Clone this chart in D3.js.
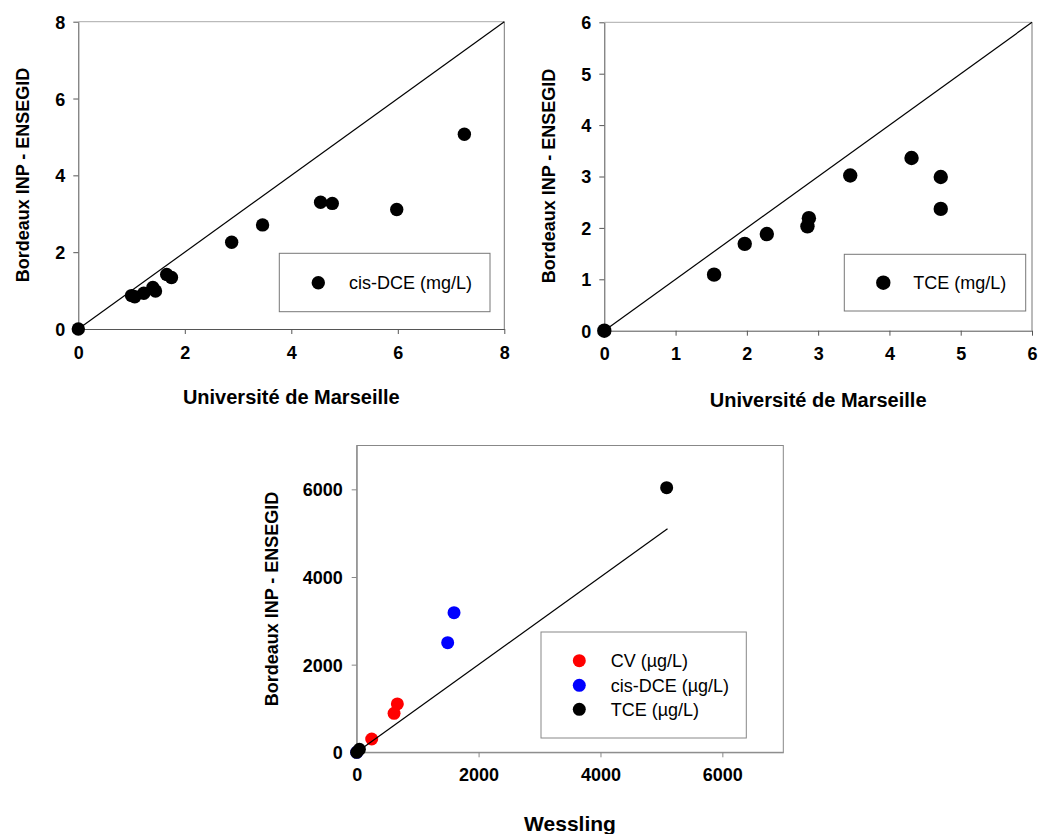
<!DOCTYPE html>
<html>
<head>
<meta charset="utf-8">
<script src="https://cdn.jsdelivr.net/npm/d3@7"></script>
<style>
  html, body { margin: 0; padding: 0; background: #fff; }
  svg { display: block; font-family: "Liberation Sans", Arial, sans-serif; }
</style>
</head>
<body>
<svg id="chart" width="1040" height="834"></svg>
<script>
// ---- Data ----
// Panel 1: cis-DCE (mg/L), Université de Marseille vs Bordeaux INP - ENSEGID
const p1X = [0, 1.00, 1.06, 1.23, 1.40, 1.45, 1.66, 1.75, 2.88, 3.46, 4.55, 4.77, 5.98, 7.25];
const p1Y = [0, 0.87, 0.84, 0.93, 1.08, 0.99, 1.42, 1.34, 2.26, 2.71, 3.30, 3.27, 3.11, 5.07];
const p1Ticks = [0, 2, 4, 6, 8];
const p1Label = "cis-DCE (mg/L)";

// Panel 2: TCE (mg/L)
const p2X = [0, 1.54, 1.97, 2.28, 2.85, 2.87, 3.45, 4.31, 4.72, 4.72];
const p2Y = [0, 1.09, 1.69, 1.88, 2.03, 2.19, 3.02, 3.36, 2.99, 2.37];
const p2Ticks = [0, 1, 2, 3, 4, 5, 6];
const p2Label = "TCE (mg/L)";

// Panel 3: Wessling vs Bordeaux INP - ENSEGID (µg/L)
const cvX = [246, 613, 667];
const cvY = [304, 890, 1103];
const dceX = [0, 1493, 1597];
const dceY = [0, 2502, 3186];
const tceX = [0, 44, 5086];
const tceY = [0, 68, 6038];
const p3Ticks = [0, 2000, 4000, 6000];
const p3Series = ["CV (µg/L)", "cis-DCE (µg/L)", "TCE (µg/L)"];
const p3Colors = ["#ff0000", "#0000ff", "#000000"];
const p3LineEnd = 5100;

const yTitle = "Bordeaux INP - ENSEGID";
const xTitleTop = "Université de Marseille";
const xTitleBottom = "Wessling";

const svg = d3.select("#chart");
svg.append("rect").attr("width", 1040).attr("height", 834).attr("fill", "#fff");

function styleAxis(g, color) {
  g.selectAll(".domain").attr("stroke", color).attr("stroke-width", 1);
  g.selectAll(".tick line").attr("stroke", color).attr("stroke-width", 1);
  g.selectAll(".tick text")
    .attr("fill", "#000")
    .attr("font-size", "18px")
    .attr("font-weight", "bold")
    .attr("font-family", "'Liberation Sans', Arial, sans-serif");
}

function drawTopPanel(o) {
  const x = d3.scaleLinear().domain(o.domain).range([o.left, o.right]);
  const y = d3.scaleLinear().domain(o.domain).range([o.bottom, o.top]);
  const g = svg.append("g");

  // top & right spines (lighter)
  g.append("line").attr("x1", x(o.domain[0])).attr("x2", x(o.domain[1]))
    .attr("y1", y(o.domain[1])).attr("y2", y(o.domain[1]))
    .attr("stroke", "#aaa").attr("stroke-width", 1);
  g.append("line").attr("x1", x(o.domain[1])).attr("x2", x(o.domain[1]))
    .attr("y1", y(o.domain[0])).attr("y2", y(o.domain[1]))
    .attr("stroke", "#777").attr("stroke-width", 1);

  const gx = g.append("g").attr("transform", `translate(0,${o.bottom})`)
    .call(d3.axisBottom(x).tickValues(o.ticks).tickSize(5).tickPadding(12).tickFormat(d3.format("d")).tickSizeOuter(0));
  styleAxis(gx, "#555");
  const gy = g.append("g").attr("transform", `translate(${o.left},0)`)
    .call(d3.axisLeft(y).tickValues(o.ticks).tickSize(5).tickPadding(8).tickFormat(d3.format("d")).tickSizeOuter(0));
  styleAxis(gy, "#555");
  gy.selectAll(".tick text").attr("dy", "0.36em");

  // points
  g.append("g").selectAll("circle").data(o.xs.map((v, i) => [v, o.ys[i]]))
    .join("circle").attr("cx", d => x(d[0])).attr("cy", d => y(d[1]))
    .attr("r", o.r).attr("fill", "#000");

  // 1:1 line
  g.append("line").attr("x1", x(0)).attr("y1", y(0))
    .attr("x2", x(o.domain[1])).attr("y2", y(o.domain[1]))
    .attr("stroke", "#000").attr("stroke-width", 1.2);

  // legend
  g.append("rect").attr("x", o.leg.x).attr("y", o.leg.y).attr("width", o.leg.w).attr("height", o.leg.h)
    .attr("fill", "#fff").attr("stroke", "#777").attr("stroke-width", 1);
  g.append("circle").attr("cx", o.leg.cx).attr("cy", o.leg.cy).attr("r", o.r).attr("fill", "#000");
  g.append("text").attr("x", o.leg.tx).attr("y", o.leg.cy).attr("dy", "0.36em")
    .attr("font-size", "18px").text(o.label);

  // titles
  g.append("text").attr("x", (o.left + o.right) / 2).attr("y", o.xTitleY)
    .attr("text-anchor", "middle").attr("font-size", "20px").attr("font-weight", "bold").text(xTitleTop);
  g.append("text").attr("transform", `translate(${o.yTitleX},${o.yTitleCY}) rotate(-90)`)
    .attr("text-anchor", "middle").attr("font-size", "18px").attr("font-weight", "bold").text(yTitle);
}

drawTopPanel({
  domain: [0, 8], ticks: p1Ticks, left: 78.3, right: 504.3, top: 21.7, bottom: 329,
  xs: p1X, ys: p1Y, r: 6.7, label: p1Label,
  leg: { x: 279.3, y: 253.3, w: 210.7, h: 58.4, cx: 318.3, cy: 282.7, tx: 349 },
  xTitleY: 404, yTitleX: 28.5, yTitleCY: 175
});

drawTopPanel({
  domain: [0, 6], ticks: p2Ticks, left: 604.3, right: 1032, top: 22.3, bottom: 330.7,
  xs: p2X, ys: p2Y, r: 7.2, label: p2Label,
  leg: { x: 844.3, y: 254.3, w: 181.4, h: 56.7, cx: 883.3, cy: 282.7, tx: 913.3 },
  xTitleY: 407, yTitleX: 555, yTitleCY: 176
});

// ---- Panel 3 ----
(function () {
  const left = 356.7, right = 783.3, top = 445.5, bottom = 752.3;
  const x = d3.scaleLinear().domain([0, 7000]).range([left, right]);
  const y = d3.scaleLinear().domain([0, 7000]).range([bottom, top]);
  const g = svg.append("g");

  g.append("rect").attr("x", left).attr("y", top).attr("width", right - left).attr("height", bottom - top)
    .attr("fill", "none").attr("stroke", "#888").attr("stroke-width", 1);

  const gx = g.append("g").attr("transform", `translate(0,${bottom})`)
    .call(d3.axisBottom(x).tickValues(p3Ticks).tickSize(5).tickPadding(11).tickSizeOuter(0).tickFormat(d3.format("d")));
  styleAxis(gx, "#888");
  const gy = g.append("g").attr("transform", `translate(${left},0)`)
    .call(d3.axisLeft(y).tickValues(p3Ticks).tickSize(5).tickPadding(9).tickSizeOuter(0).tickFormat(d3.format("d")));
  styleAxis(gy, "#888");
  gy.selectAll(".tick text").attr("dy", "0.36em");

  const series = [[cvX, cvY], [dceX, dceY], [tceX, tceY]];
  series.forEach((s, k) => {
    g.append("g").selectAll("circle").data(s[0].map((v, i) => [v, s[1][i]]))
      .join("circle").attr("cx", d => x(d[0])).attr("cy", d => y(d[1]))
      .attr("r", 6.5).attr("fill", p3Colors[k]);
  });

  g.append("line").attr("x1", x(0)).attr("y1", y(0)).attr("x2", x(p3LineEnd)).attr("y2", y(p3LineEnd))
    .attr("stroke", "#000").attr("stroke-width", 1.2);

  // legend
  g.append("rect").attr("x", 541).attr("y", 632).attr("width", 205.3).attr("height", 106)
    .attr("fill", "#fff").attr("stroke", "#888").attr("stroke-width", 1);
  const ly = [660.7, 685.3, 709.3];
  p3Series.forEach((name, k) => {
    g.append("circle").attr("cx", 579.3).attr("cy", ly[k]).attr("r", 6.5).attr("fill", p3Colors[k]);
    g.append("text").attr("x", 610.7).attr("y", ly[k]).attr("dy", "0.36em")
      .attr("font-size", "18px").text(name);
  });

  g.append("text").attr("x", (left + right) / 2).attr("y", 831)
    .attr("text-anchor", "middle").attr("font-size", "21px").attr("font-weight", "bold").text(xTitleBottom);
  g.append("text").attr("transform", `translate(278,599) rotate(-90)`)
    .attr("text-anchor", "middle").attr("font-size", "18px").attr("font-weight", "bold").text(yTitle);
})();
</script>
</body>
</html>
